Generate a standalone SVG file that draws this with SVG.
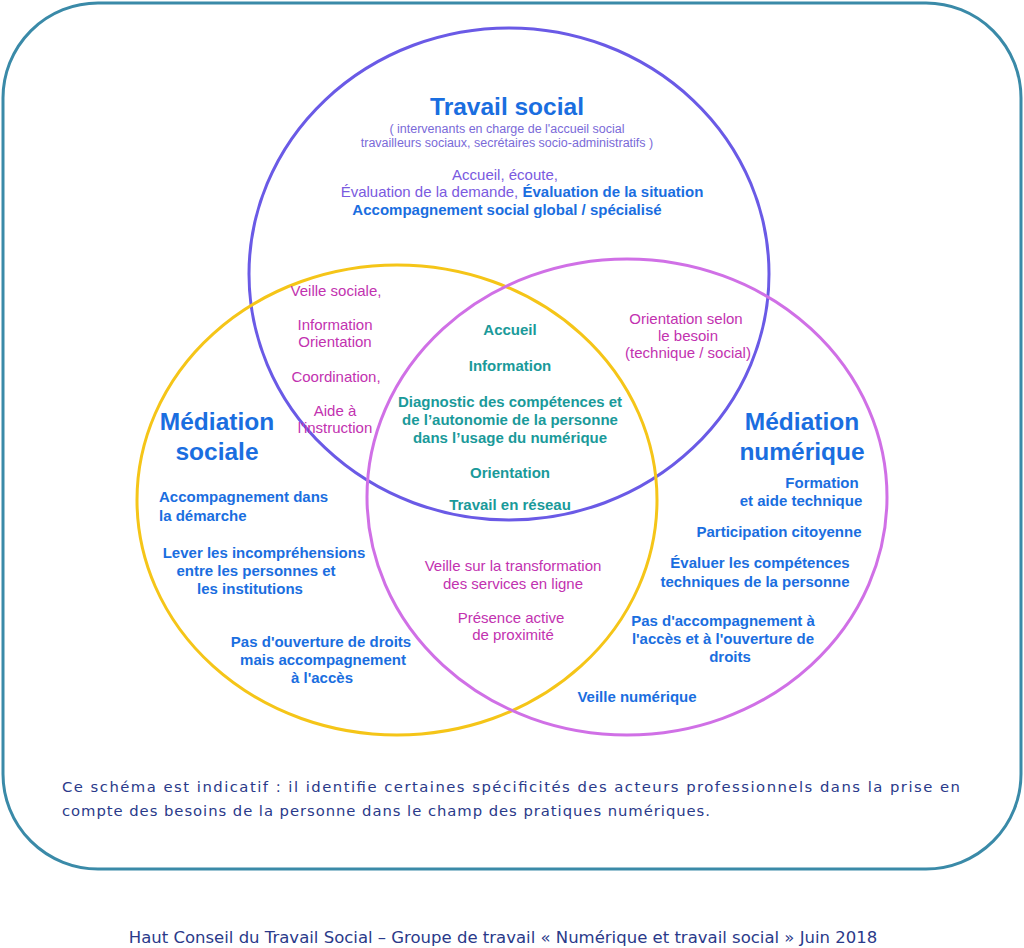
<svg xmlns="http://www.w3.org/2000/svg" width="1024" height="948" viewBox="0 0 1024 948">
<style>
text{font-family:"Liberation Sans",Arial,sans-serif;text-anchor:middle}
.b{fill:#1a6ee0;font-weight:bold;font-size:15px}
.p{fill:#7a5ae0;font-size:15px}
.m{fill:#c232b0;font-size:15px}
.t{fill:#1a9a9a;font-weight:bold;font-size:15px}
.h{fill:#1a6ee0;font-weight:bold;font-size:24.5px}
.s{fill:#7a6ad8;font-size:12.5px}
.n{font-family:"DejaVu Sans",sans-serif;fill:#2a3a8a;font-size:14.8px}
</style>
<rect width="1024" height="948" fill="#fff"/>
<rect x="3" y="3" width="1018" height="866" rx="95" fill="none" stroke="#3a8aa8" stroke-width="3"/>
<g id="circles" fill="none" stroke-width="3">
<ellipse id="travail" cx="509" cy="274" rx="260" ry="246" stroke="#6a5ae6"/>
<ellipse id="msociale" cx="397" cy="500" rx="260" ry="235" stroke="#f5c518"/>
<ellipse id="mnumerique" cx="627" cy="497" rx="260" ry="238" stroke="#d070e6"/>
</g>
<g id="t-travail">
<text x="507" y="115" class="h">Travail social</text>
<text x="507" y="133" class="s">( intervenants en charge de l'accueil social</text>
<text x="507" y="147" class="s">travailleurs sociaux, secrétaires socio-administratifs )</text>
<text x="505" y="180" class="p">Accueil, écoute,</text>
<text x="522" y="197" class="p">Évaluation de la demande, <tspan class="b">Évaluation de la situation</tspan></text>
<text x="507" y="215" class="b">Accompagnement social global / spécialisé</text>
</g>
<g id="t-ts-ms" class="m">
<text x="336" y="296">Veille sociale,</text>
<text x="335" y="330">Information</text>
<text x="335" y="347">Orientation</text>
<text x="336" y="382">Coordination,</text>
<text x="335" y="416">Aide à</text>
<text x="335" y="433">l'instruction</text>
</g>
<g id="t-ts-mn" class="m">
<text x="686" y="324">Orientation selon</text>
<text x="688" y="341">le besoin</text>
<text x="688" y="358">(technique / social)</text>
</g>
<g id="t-center">
<text x="510" y="335" class="t">Accueil</text>
<text x="510" y="371" class="t">Information</text>
<text x="510" y="407" class="t">Diagnostic des compétences et</text>
<text x="510" y="425" class="t">de l’autonomie de la personne</text>
<text x="510" y="443" class="t">dans l’usage du numérique</text>
<text x="510" y="478" class="t">Orientation</text>
<text x="510" y="510" class="t">Travail en réseau</text>
</g>
<g id="t-msociale">
<text x="217" y="430" class="h">Médiation</text>
<text x="217" y="460" class="h">sociale</text>
<text x="159" y="502" class="b" style="text-anchor:start">Accompagnement dans</text>
<text x="159" y="521" class="b" style="text-anchor:start">la démarche</text>
<text x="264" y="558" class="b">Lever les incompréhensions</text>
<text x="256" y="576" class="b">entre les personnes et</text>
<text x="250" y="594" class="b">les institutions</text>
<text x="321" y="647" class="b">Pas d'ouverture de droits</text>
<text x="323" y="665" class="b">mais accompagnement</text>
<text x="322" y="683" class="b">à l'accès</text>
</g>
<g id="t-ms-mn" class="m">
<text x="513" y="571">Veille  sur la transformation</text>
<text x="513" y="589">des services en ligne</text>
<text x="511" y="623">Présence active</text>
<text x="513" y="640">de proximité</text>
</g>
<g id="t-mnumerique">
<text x="802" y="430" class="h">Médiation</text>
<text x="802" y="460" class="h">numérique</text>
<text x="822" y="488" class="b">Formation</text>
<text x="801" y="506" class="b">et aide technique</text>
<text x="779" y="537" class="b">Participation citoyenne</text>
<text x="760" y="568" class="b">Évaluer les compétences</text>
<text x="755" y="587" class="b">techniques de la personne</text>
<text x="723" y="626" class="b">Pas d'accompagnement à</text>
<text x="723" y="644" class="b">l'accès et à l'ouverture de</text>
<text x="730" y="662" class="b">droits</text>
<text x="637" y="702" class="b">Veille numérique</text>
</g>
<g id="notes">
<text x="62" y="792" class="n" style="text-anchor:start" textLength="898" lengthAdjust="spacing">Ce schéma est indicatif : il identifie certaines spécificités des acteurs professionnels dans la prise en</text>
<text x="62" y="816" class="n" style="text-anchor:start" textLength="648" lengthAdjust="spacing">compte des besoins de la personne dans le champ des pratiques numériques.</text>
<text x="503" y="943" class="n" style="font-size:16.5px">Haut Conseil du Travail Social – Groupe de travail « Numérique et travail social » Juin 2018</text>
</g>
</svg>
